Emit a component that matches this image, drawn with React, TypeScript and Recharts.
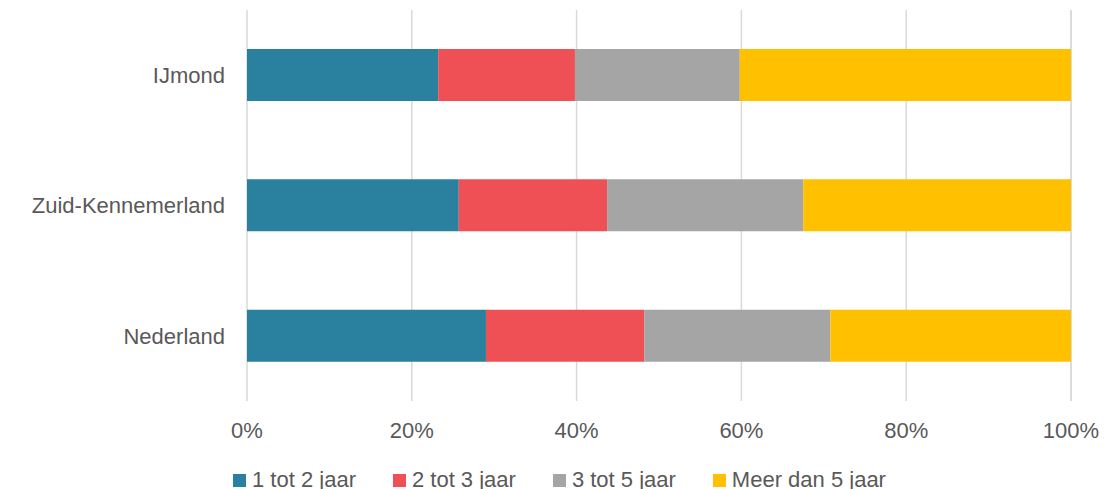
import { BarChart, Bar, XAxis, YAxis, CartesianGrid } from 'recharts';

const regions = ['IJmond', 'Zuid-Kennemerland', 'Nederland'];

const eenTotTwee = [23.2, 25.7, 29.0];
const tweeTotDrie = [16.6, 18.0, 19.2];
const drieTotVijf = [20.0, 23.8, 22.6];
const meerDanVijf = [40.2, 32.5, 29.2];

const xTicks = [0, 20, 40, 60, 80, 100];

const series = [
  { key: 'a', name: '1 tot 2 jaar', color: '#2A809F', values: eenTotTwee },
  { key: 'b', name: '2 tot 3 jaar', color: '#EF5055', values: tweeTotDrie },
  { key: 'c', name: '3 tot 5 jaar', color: '#A5A5A5', values: drieTotVijf },
  { key: 'd', name: 'Meer dan 5 jaar', color: '#FFC000', values: meerDanVijf },
];

const data = regions.map((region, i) => {
  const row: Record<string, string | number> = { region };
  series.forEach((s) => {
    row[s.key] = s.values[i];
  });
  return row;
});

const font = '"Liberation Sans", Arial, sans-serif';
const textColor = '#595959';

const App = () => {
  return (
    <div style={{ position: 'absolute', top: 0, left: 0, width: 1104, height: 489, background: '#fff', fontFamily: font }}>
      <BarChart
        width={1104}
        height={489}
        data={data}
        layout="vertical"
        margin={{ top: 10, right: 33, left: 0, bottom: 58 }}
      >
        <CartesianGrid horizontal={false} stroke="#D9D9D9" strokeWidth={1.5} />
        <XAxis
          type="number"
          domain={[0, 100]}
          ticks={xTicks}
          tickFormatter={(v) => `${v}%`}
          axisLine={false}
          tickLine={false}
          tickSize={0}
          tickMargin={21}
          height={30}
          tick={{ fontSize: 22, fill: textColor, fontFamily: font }}
        />
        <YAxis
          type="category"
          dataKey="region"
          width={247}
          axisLine={false}
          tickLine={false}
          tickSize={0}
          tickMargin={22}
          tick={{ fontSize: 22, fill: textColor, fontFamily: font }}
        />
        {series.map((s) => (
          <Bar
            key={s.key}
            dataKey={s.key}
            name={s.name}
            stackId="stack"
            fill={s.color}
            barSize={52}
            isAnimationActive={false}
          />
        ))}
      </BarChart>
      <div
        style={{
          position: 'absolute',
          top: 466,
          left: 233,
          display: 'flex',
          alignItems: 'center',
          fontSize: 22,
          color: textColor,
          whiteSpace: 'nowrap',
          lineHeight: '28px',
        }}
      >
        {series.map((s) => (
          <div key={s.key} style={{ display: 'flex', alignItems: 'center', marginRight: 37 }}>
            <span style={{ display: 'inline-block', width: 13, height: 13, background: s.color, marginRight: 6 }} />
            <span>{s.name}</span>
          </div>
        ))}
      </div>
    </div>
  );
};

export default App;
